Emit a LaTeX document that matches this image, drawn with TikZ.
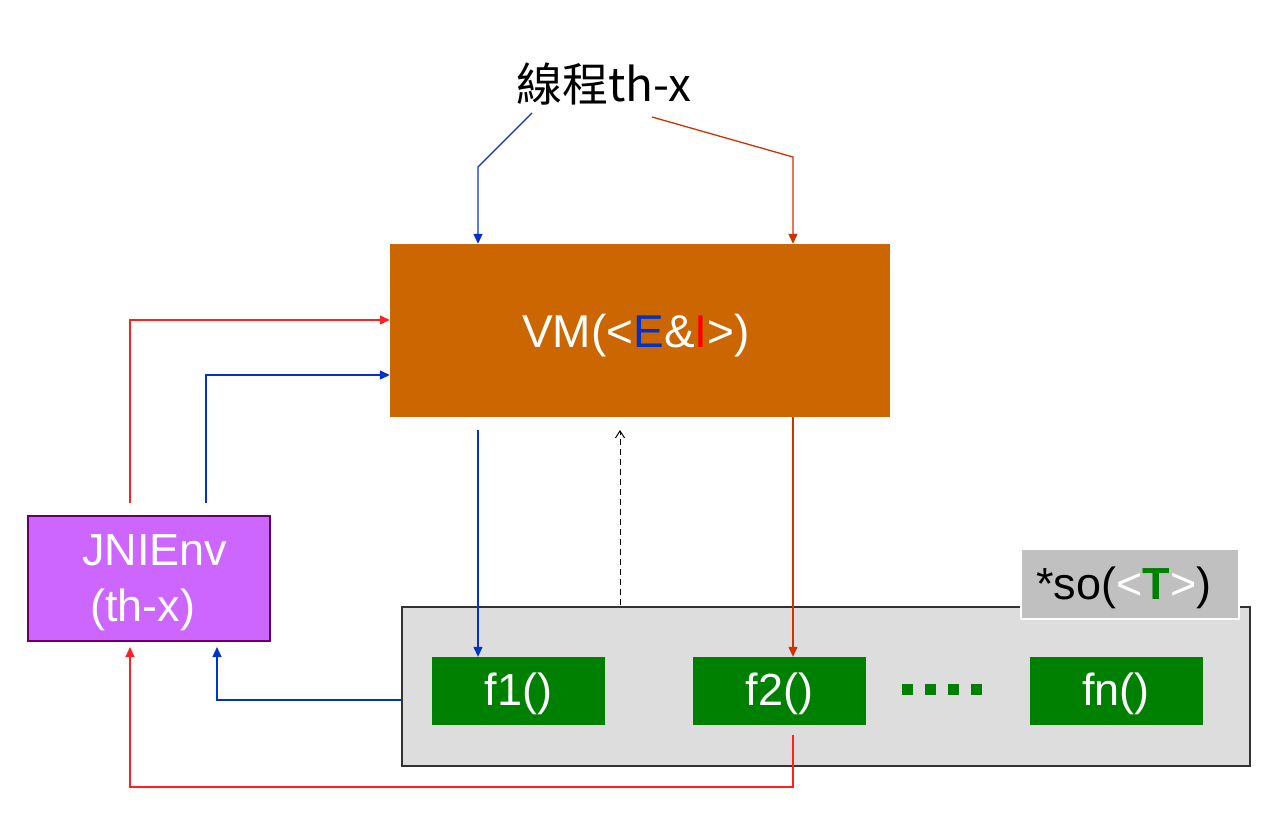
\documentclass[tikz,border=0pt]{standalone}
\usepackage{fontspec}
\setmainfont{Liberation Sans}
\newfontfamily\cjk{Noto Sans CJK TC}
\usetikzlibrary{arrows.meta}
\definecolor{vmc}{HTML}{CC6600}
\definecolor{eblue}{HTML}{0033CC}
\definecolor{ired}{HTML}{FF0000}
\definecolor{ored}{HTML}{CC3300}
\definecolor{lred}{HTML}{FF2020}
\definecolor{jnif}{HTML}{CC66FF}
\definecolor{jnib}{HTML}{660066}
\definecolor{contf}{HTML}{DDDDDD}
\definecolor{contb}{HTML}{333333}
\definecolor{sof}{HTML}{C0C0C0}
\definecolor{fgreen}{HTML}{008000}
\begin{document}
\begin{tikzpicture}[x=1pt,y=-1pt,
  box/.style={rectangle, inner sep=0pt, text=white, font=\fontsize{45}{55}\selectfont},
  fbox/.style={box, fill=fgreen, minimum width=173pt, minimum height=68pt},
  tip/.style={-{Triangle[length=10pt,width=9pt]}},
  ln/.style={line width=1.3pt},
]
\useasboundingbox (0,0) rectangle (1282,820);
% nodes
\node[font=\cjk\fontsize{46}{52}\selectfont] (title) at (604,84) {線程th-x};
\node[box, fill=vmc, minimum width=500pt, minimum height=173pt] (vm) at (640,330.5) {};
\node[box, font=\fontsize{46}{55}\selectfont] (vmt) at (636,336)
  {VM(<\textcolor{eblue}{E}\&\textcolor{ired}{I}>)};
\node[box, fill=jnif, draw=jnib, line width=1.2pt, minimum width=242pt, minimum height=125pt] (jni) at (149,578.5) {};
\node[box, anchor=west, align=left, font=\fontsize{45}{56}\selectfont] (jnit) at (82,583)
  {JNIEnv\\\hspace*{8pt}(th-x)};
\node[rectangle, fill=contf, draw=contb, line width=2pt, minimum width=848pt, minimum height=159pt] (cont) at (826,686.5) {};
\node[box, fill=sof, draw=white, line width=2pt, text=black, minimum width=218pt, minimum height=70pt] (so) at (1130,584) {};
\node[box, text=black] (sot) at (1124,588)
  {*so(\textcolor{white}{<}\textcolor{fgreen}{\textbf{T}}\textcolor{white}{>})};
\node[fbox] (f1) at (518.5,691) {};
\node[fbox] (f2) at (779.5,691) {};
\node[fbox] (fn) at (1116,691) {};
\node[box] (f1t) at (518.5,694) {f1()};
\node[box] (f2t) at (779.5,694) {f2()};
\node[box] (fnt) at (1116,694) {fn()};
\foreach \i in {0,1,2,3} \fill[fgreen] (902+23*\i,684) rectangle +(11,11);
% coordinates
\coordinate (tb) at (532,113);
\coordinate (tbk) at (478,167);
\coordinate (tr) at (652,117);
\coordinate (trk) at (793,157);
\coordinate (jr) at (130,503);
\coordinate (jrk) at (130,320);
\coordinate (jb) at (206,503);
\coordinate (jbk) at (206,375);
\coordinate (vb) at (478,430);
\coordinate (dsh) at (620,605);
\coordinate (dtop) at (620,430);
\coordinate (bb) at (217,700);
\coordinate (bbe) at (217,647);
\coordinate (rs) at (793,735);
\coordinate (rk) at (793,787);
\coordinate (rk2) at (130,787);
\coordinate (re) at (130,647);
% connectors
\draw[ln, eblue, tip] (tb) -- (tbk) -- (vm.north -| tbk);
\draw[ln, ored, tip] (tr) -- (trk) -- (vm.north -| trk);
\draw[ln, lred, tip] (jr) -- (jrk) -- (vm.west |- jrk);
\draw[ln, eblue, tip] (jb) -- (jbk) -- (vm.west |- jbk);
\draw[ln, eblue, tip] (vb) -- (f1.north -| vb);
\draw[ln, ored, tip] (vm.south -| trk) -- (f2.north -| trk);
\draw[line width=1pt, dashed, dash pattern=on 6pt off 4pt, -{Straight Barb[length=7pt,width=9pt]}] (dsh) -- (dtop);
\draw[ln, eblue, tip] (cont.west |- bb) -- (bb) -- (bbe);
\draw[ln, lred, tip] (rs) -- (rk) -- (rk2) -- (re);
\end{tikzpicture}
\end{document}
